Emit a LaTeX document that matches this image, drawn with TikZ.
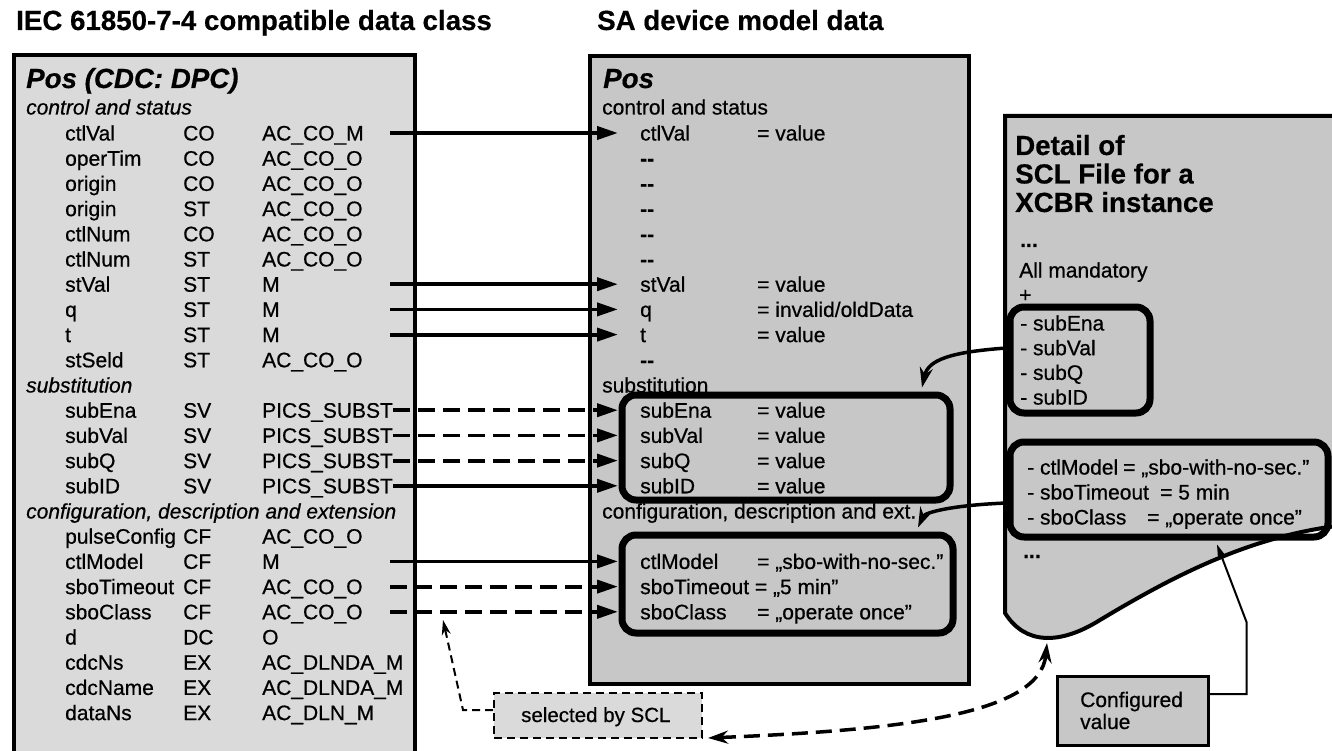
\documentclass[tikz,border=0pt]{standalone}
\usepackage{fontspec}
\setmainfont{Liberation Sans}[UprightFeatures={FakeBold=0.6}, ItalicFeatures={FakeBold=0.6}, BoldFeatures={FakeBold=0.4}, BoldItalicFeatures={FakeBold=0.4}]
\usetikzlibrary{arrows.meta}
\definecolor{lgray}{RGB}{218,218,218}
\definecolor{mgray}{RGB}{199,199,199}
\begin{document}
\begin{tikzpicture}[x=1pt,y=-1pt,
  txt/.style={inner sep=0pt, anchor=base west, font=\fontsize{21}{25}\selectfont},
  itx/.style={txt, font=\fontsize{21}{25}\selectfont\itshape},
  head/.style={inner sep=0pt, anchor=base west, font=\fontsize{27.7}{30}\selectfont\bfseries},
  headi/.style={head, font=\fontsize{27.7}{30}\selectfont\bfseries\itshape},
  panel/.style={draw, line width=4pt, inner sep=0pt, anchor=north west},
  rbox/.style={draw, line width=7pt, rounded corners=14pt, inner sep=0pt},
  arr/.style={line width=3.8pt, -{Triangle[length=21pt,width=13pt]}},
  darr/.style={arr, dash pattern=on 17pt off 8pt},
  carr/.style={line width=3.5pt, -{Stealth[length=20pt,width=13pt]}},
]
\useasboundingbox (0,0) rectangle (1332,751);
\clip (0,0) rectangle (1332,751);
\fill[white] (0,0) rectangle (1332,751);

% titles
\node[head] (t1) at (16,30) {IEC 61850-7-4 compatible data class};
\node[head] (t2) at (597,30) {SA device model data};

% panels
\node[panel, fill=lgray, minimum width=401pt, minimum height=740pt] (lbox) at (12,53) {};
\node[panel, fill=mgray, minimum width=379pt, minimum height=628pt] (mbox) at (588,54) {};
\draw[line width=4pt, fill=mgray] (1005,613) -- (1005,116) -- (1345,116) -- (1345,525)
  .. controls (1250,535) and (1170,578) .. (1100,620)
  .. controls (1060,645) and (1025,645) .. (1005,613) -- cycle;
\coordinate (docbot) at (1047,643);

% left panel text
\node[headi] (lpos) at (26,88) {Pos (CDC: DPC)};
\node[itx] (lh0) at (26,114.5) {control and status};
\foreach \k/\n/\t/\c in {0/ctlVal/CO/AC\_CO\_M, 1/operTim/CO/AC\_CO\_O, 2/origin/CO/AC\_CO\_O,
  3/origin/ST/AC\_CO\_O, 4/ctlNum/CO/AC\_CO\_O, 5/ctlNum/ST/AC\_CO\_O, 6/stVal/ST/M, 7/q/ST/M,
  8/t/ST/M, 9/stSeld/ST/AC\_CO\_O, 11/subEna/SV/PICS\_SUBST, 12/subVal/SV/PICS\_SUBST,
  13/subQ/SV/PICS\_SUBST, 14/subID/SV/PICS\_SUBST, 16/pulseConfig/CF/AC\_CO\_O, 17/ctlModel/CF/M,
  18/sboTimeout/CF/AC\_CO\_O, 19/sboClass/CF/AC\_CO\_O, 20/d/DC/O, 21/cdcNs/EX/AC\_DLNDA\_M,
  22/cdcName/EX/AC\_DLNDA\_M, 23/dataNs/EX/AC\_DLN\_M}{
  \pgfmathsetmacro{\yy}{140.5+25.2*\k}
  \node[txt] (ln\k) at (65,\yy) {\n};
  \node[txt] (lt\k) at (183,\yy) {\t};
  \node[txt] (lc\k) at (262,\yy) {\c};
}
\node[itx] (lh10) at (26,{140.5+25.2*10}) {substitution};
\node[itx] (lh15) at (26,{140.5+25.2*15}) {configuration, description and extension};

% middle panel text
\node[headi] (mpos) at (603,88) {Pos};
\node[txt] (mh0) at (602,114.5) {control and status};
\foreach \k/\n/\v in {0/ctlVal/= value, 6/stVal/= value, 7/q/{= invalid/oldData}, 8/t/= value,
  11/subEna/= value, 12/subVal/= value, 13/subQ/= value, 14/subID/= value,
  17/ctlModel/{= „sbo-with-no-sec.”}, 19/sboClass/{= „operate once”}}{
  \pgfmathsetmacro{\yy}{140.5+25.2*\k}
  \node[txt] (mn\k) at (640,\yy) {\n};
  \node[txt] (mv\k) at (757,\yy) {\v};
}
\foreach \k in {1,2,3,4,5,9}{
  \pgfmathsetmacro{\yy}{140.5+25.2*\k}
  \node[txt, font=\fontsize{21}{25}\selectfont\bfseries] (md\k) at (640,\yy) {-{}-};
}
\node[txt] (mn18) at (640,{140.5+25.2*18}) {sboTimeout = „5 min”};
\node[txt] (mh10) at (602,{140.5+25.2*10}) {substitution};
\node[txt] (mh15) at (602,{140.5+25.2*15}) {configuration, description and ext.};

% rounded boxes in middle
\node[rbox, minimum width=328pt, minimum height=105pt] (sbox) at (786,447.5) {};
\node[rbox, minimum width=331pt, minimum height=98pt] (cbox) at (787.5,584) {};

% document text
\node[head] (d1) at (1015,155) {Detail of};
\node[head] (d2) at (1015,183.5) {SCL File for a};
\node[head] (d3) at (1015,212) {XCBR instance};
\node[txt, font=\fontsize{21}{25}\selectfont\bfseries] (d4) at (1020,247) {...};
\node[txt] (d5) at (1019,277.5) {All mandatory};
\node[txt] (d6) at (1019,302) {+};
\node[rbox, minimum width=140pt, minimum height=106pt] (dsub) at (1080,360) {};
\foreach \k/\n in {0/subEna,1/subVal,2/subQ,3/subID}{
  \pgfmathsetmacro{\yy}{330.5+24.7*\k}
  \node[txt] (ds\k) at (1020,\yy) {- \n};
}
\node[rbox, minimum width=318pt, minimum height=95pt] (dcfg) at (1169,489.5) {};
\node[txt] (dc0) at (1027,474.5) {- ctlModel};
\node[txt] (dv0) at (1123,474.5) {= „sbo-with-no-sec.”};
\node[txt] (dc1) at (1027,499.5) {- sboTimeout};
\node[txt] (dv1) at (1160,499.5) {= 5 min};
\node[txt] (dc2) at (1027,524.5) {- sboClass};
\node[txt] (dv2) at (1147,524.5) {= „operate once”};
\node[txt, font=\fontsize{21}{25}\selectfont\bfseries] (d7) at (1023,558) {...};

% bottom boxes
\node[draw, line width=3pt, fill=mgray, minimum width=151pt, minimum height=69pt, inner sep=0pt] (cfg) at (1132.5,710.5) {};
\node[txt] (cfgt1) at (1080,707) {Configured};
\node[txt] (cfgt2) at (1080,729) {value};
\node[draw, line width=2pt, dash pattern=on 8pt off 5pt, fill=lgray, minimum width=208pt, minimum height=45pt, inner sep=0pt] (sel) at (598,715.5) {};
\node[txt, font=\fontsize{20.5}{25}\selectfont] (selt) at (521,722) {selected by SCL};

% straight arrows
\foreach \k in {0,6,7,8,17}{
  \draw[arr] ([shift={(128pt,7.5pt)}]lc\k.base west) -- ([shift={(-22pt,7.5pt)}]mn\k.base west);
}
\draw[arr] ([shift={(131pt,7.5pt)}]lc14.base west) -- ([shift={(-22pt,7.5pt)}]mn14.base west);
\foreach \k in {11,12,13}{
  \draw[darr] ([shift={(131pt,7.5pt)}]lc\k.base west) -- ([shift={(-22pt,7.5pt)}]mn\k.base west);
}
\foreach \k in {18,19}{
  \draw[darr] ([shift={(128pt,7.5pt)}]lc\k.base west) -- ([shift={(-22pt,7.5pt)}]mn\k.base west);
}

% curved arrows from document
\draw[carr] ([yshift=12pt]dsub.west) .. controls (950,352) and (928,360) .. ([shift={(136pt,4pt)}]sbox.north);
\draw[carr] ([yshift=-13.5pt]dcfg.west) .. controls (955,505) and (925,512) .. ([shift={(130.5pt,4pt)}]cbox.north);

% configured value leader
\draw[line width=2pt, -{Stealth[length=15pt,width=9pt]}] ([yshift=16.5pt]cfg.east) -- ++(37,0) -- ++(0,-72) -- ([shift={(48pt,-4pt)}]dcfg.south);

% selected by SCL leader
\coordinate (selTip) at (443,620);
\draw[line width=2pt, dash pattern=on 8pt off 5pt, -{Stealth[length=15pt,width=9pt]}] ([yshift=5.5pt]sel.west) -- ++(-30,0) -- (selTip);

% big dashed double arrow
\draw[line width=3.5pt, dash pattern=on 16pt off 8pt, {Stealth[length=20pt,width=13pt]}-{Stealth[length=20pt,width=13pt]}]
  ([shift={(5pt,1pt)}]sel.south east) .. controls (900,730) and (1040,715) .. (docbot);
\end{tikzpicture}
\end{document}
